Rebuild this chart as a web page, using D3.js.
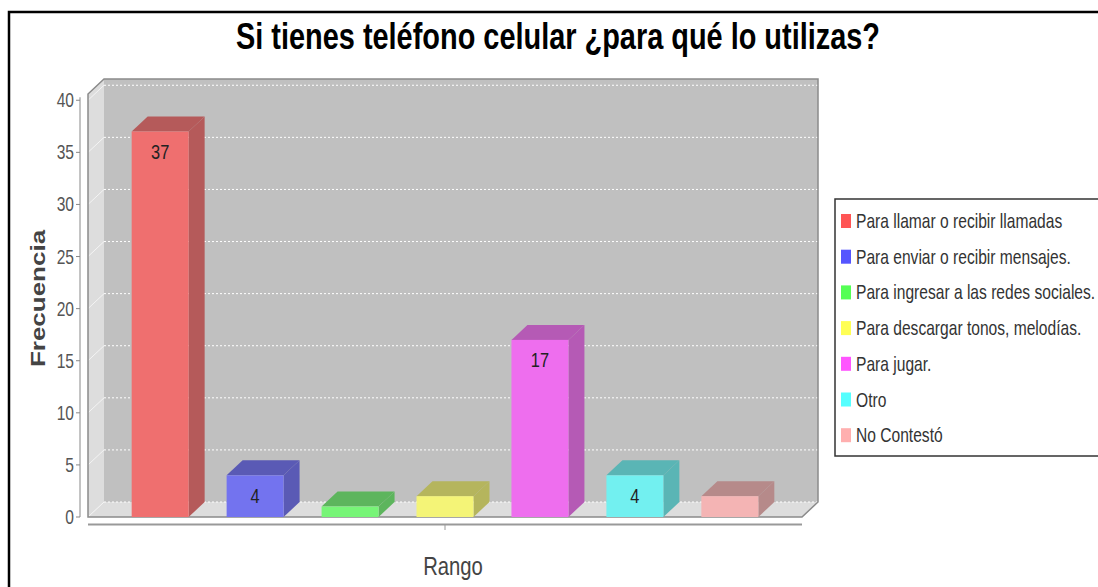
<!DOCTYPE html>
<html>
<head>
<meta charset="utf-8">
<script src="https://cdn.jsdelivr.net/npm/d3@7"></script>
<style>
  html, body { margin: 0; padding: 0; background: #fff; }
  svg { display: block; font-family: "Liberation Sans", Arial, sans-serif; }
</style>
</head>
<body>
<div id="content"></div>
<script>
var width = 1098;
var height = 587;

// data
var categories = ['Para llamar o recibir llamadas',
                  'Para enviar o recibir mensajes.',
                  'Para ingresar a las redes sociales.',
                  'Para descargar tonos, melodías.',
                  'Para jugar.',
                  'Otro',
                  'No Contestó'];
var values = [37, 4, 1, 2, 17, 4, 2];
var legendColors = ['#ff5555', '#5555ff', '#55ff55', '#ffff55', '#ff55ff', '#55ffff', '#ffafaf'];
var frontColors = ['#ef6f6f', '#7373ef', '#77f577', '#f4f477', '#ee6eee', '#72f0f0', '#f4b4b4'];
var sideColors = ['#b55a5a', '#5a5ab5', '#5db55d', '#b5b55d', '#b55ab5', '#5ab5b5', '#b68a8a'];
var yTickValues = [0, 5, 10, 15, 20, 25, 30, 35, 40];
var title = 'Si tienes teléfono celular ¿para qué lo utilizas?';
var xTitle = 'Rango';
var yTitle = 'Frecuencia';

// the picture is squeezed sideways, text too
var sx = 0.78;
var dx = 16, dy = 15;
var pLeft = 88, pRight = 802, pTop = 94, pBottom = 517;

var svg = d3.select('div#content').append('svg')
    .attr('width', width)
    .attr('height', height);

// outer frame
svg.append('rect')
    .attr('x', 9).attr('y', 12)
    .attr('width', width + 10).attr('height', height + 10)
    .attr('fill', 'none')
    .attr('stroke', '#000')
    .attr('stroke-width', 2.5);

var y = d3.scaleLinear().domain([0, 40.6]).range([pBottom, pTop]);
var x = d3.scaleBand().domain(categories).range([pLeft, pRight])
    .paddingInner(0.4).paddingOuter(0.46);

function sq(tx, ty, extra){
    return 'translate(' + tx + ',' + ty + ') scale(' + sx + ',1)' + (extra || '');
}

// title
svg.append('text')
    .attr('x', 558).attr('y', 49)
    .attr('text-anchor', 'middle')
    .attr('font-size', 36)
    .attr('font-weight', 'bold')
    .attr('textLength', 644)
    .attr('lengthAdjust', 'spacingAndGlyphs')
    .attr('fill', '#000')
    .text(title);

// walls
svg.append('path')   // left wall
    .attr('d', 'M' + pLeft + ',' + pTop + 'L' + (pLeft + dx) + ',' + (pTop - dy) +
               'L' + (pLeft + dx) + ',' + (pBottom - dy) + 'L' + pLeft + ',' + pBottom + 'Z')
    .attr('fill', '#dddddd');
svg.append('path')   // floor
    .attr('d', 'M' + pLeft + ',' + pBottom + 'L' + (pLeft + dx) + ',' + (pBottom - dy) +
               'L' + (pRight + dx) + ',' + (pBottom - dy) + 'L' + pRight + ',' + pBottom + 'Z')
    .attr('fill', '#dddddd');
svg.append('rect')   // back wall
    .attr('x', pLeft + dx).attr('y', pTop - dy)
    .attr('width', pRight - pLeft).attr('height', pBottom - pTop)
    .attr('fill', '#c0c0c0');

// gridlines
var grid = svg.append('g');
grid.selectAll('line.h')
    .data(yTickValues).enter()
        .append('line')
            .attr('class', 'h')
            .attr('x1', pLeft + dx).attr('x2', pRight + dx)
            .attr('y1', function(d){ return y(d) - dy; })
            .attr('y2', function(d){ return y(d) - dy; })
            .attr('stroke', '#ffffff')
            .attr('stroke-width', 1)
            .attr('stroke-dasharray', '2,2');
grid.selectAll('line.d')
    .data(yTickValues).enter()
        .append('line')
            .attr('class', 'd')
            .attr('x1', pLeft).attr('x2', pLeft + dx)
            .attr('y1', function(d){ return y(d); })
            .attr('y2', function(d){ return y(d) - dy; })
            .attr('stroke', '#f4f4f4')
            .attr('stroke-width', 1);

// outline of the 3d box
svg.append('path')
    .attr('d', 'M' + pLeft + ',' + pBottom + 'L' + pLeft + ',' + pTop +
               'L' + (pLeft + dx) + ',' + (pTop - dy) + 'L' + (pRight + dx) + ',' + (pTop - dy) +
               'L' + (pRight + dx) + ',' + (pBottom - dy) + 'L' + pRight + ',' + pBottom + 'Z')
    .attr('fill', 'none')
    .attr('stroke', '#8a8a8a')
    .attr('stroke-width', 1.5);

// bars
var bars = svg.append('g').selectAll('g.bar')
    .data(values).enter()
        .append('g')
            .attr('class', 'bar');

bars.append('path')   // side
    .attr('d', function(d, i){
        var x1 = x(categories[i]) + x.bandwidth(), yt = y(d);
        return 'M' + x1 + ',' + yt + 'L' + (x1 + dx) + ',' + (yt - dy) +
               'L' + (x1 + dx) + ',' + (pBottom - dy) + 'L' + x1 + ',' + pBottom + 'Z';
    })
    .attr('fill', function(d, i){ return sideColors[i]; });
bars.append('path')   // top
    .attr('d', function(d, i){
        var x0 = x(categories[i]), x1 = x0 + x.bandwidth(), yt = y(d);
        return 'M' + x0 + ',' + yt + 'L' + (x0 + dx) + ',' + (yt - dy) +
               'L' + (x1 + dx) + ',' + (yt - dy) + 'L' + x1 + ',' + yt + 'Z';
    })
    .attr('fill', function(d, i){ return sideColors[i]; });
bars.append('rect')   // front
    .attr('x', function(d, i){ return x(categories[i]); })
    .attr('y', function(d){ return y(d); })
    .attr('width', x.bandwidth())
    .attr('height', function(d){ return pBottom - y(d); })
    .attr('fill', function(d, i){ return frontColors[i]; });

// value labels, only where they fit
bars.each(function(d, i){
    if (pBottom - y(d) <= 25) return;
    d3.select(this).append('text')
        .attr('transform', sq(x(categories[i]) + x.bandwidth() / 2, y(d) + 27.5))
        .attr('text-anchor', 'middle')
        .attr('font-size', 21)
        .attr('fill', '#222')
        .text(d);
});

// y axis
var yAxis = svg.append('g');
yAxis.append('line')
    .attr('x1', 80).attr('x2', 80)
    .attr('y1', y(40) - 3).attr('y2', pBottom)
    .attr('stroke', '#888').attr('stroke-width', 1);
var yt = yAxis.selectAll('g.tick')
    .data(yTickValues).enter()
        .append('g')
            .attr('class', 'tick');
yt.append('line')
    .attr('x1', 76).attr('x2', 80)
    .attr('y1', function(d){ return y(d); })
    .attr('y2', function(d){ return y(d); })
    .attr('stroke', '#888');
yt.append('text')
    .attr('transform', function(d){ return sq(74, y(d) + 7); })
    .attr('text-anchor', 'end')
    .attr('font-size', 20)
    .attr('fill', '#555')
    .text(function(d){ return d; });

svg.append('text')
    .attr('transform', sq(45, 298.5, ' rotate(-90)'))
    .attr('text-anchor', 'middle')
    .attr('font-size', 26)
    .attr('font-weight', 'bold')
    .attr('fill', '#444')
    .text(yTitle);

// category axis
svg.append('line')
    .attr('x1', pLeft).attr('x2', pRight)
    .attr('y1', 524.5).attr('y2', 524.5)
    .attr('stroke', '#999').attr('stroke-width', 2);
svg.append('line')
    .attr('x1', (pLeft + pRight) / 2).attr('x2', (pLeft + pRight) / 2)
    .attr('y1', 525).attr('y2', 530)
    .attr('stroke', '#999');
svg.append('text')
    .attr('transform', sq((pLeft + pRight + dx) / 2, 575))
    .attr('text-anchor', 'middle')
    .attr('font-size', 26)
    .attr('fill', '#444')
    .text(xTitle);

// legend
var legend = svg.append('g');
legend.append('rect')
    .attr('x', 835).attr('y', 199)
    .attr('width', 300).attr('height', 257)
    .attr('fill', '#fff')
    .attr('stroke', '#333')
    .attr('stroke-width', 1.5);
var items = legend.selectAll('g.item')
    .data(categories).enter()
        .append('g')
            .attr('class', 'item');
items.append('rect')
    .attr('x', 841)
    .attr('y', function(d, i){ return 214 + i * 35.7; })
    .attr('width', 10).attr('height', 14)
    .attr('fill', function(d, i){ return legendColors[i]; });
items.append('text')
    .attr('transform', function(d, i){ return sq(856, 228 + i * 35.7); })
    .attr('font-size', 20)
    .attr('fill', '#333')
    .text(function(d){ return d; });
</script>
</body>
</html>
